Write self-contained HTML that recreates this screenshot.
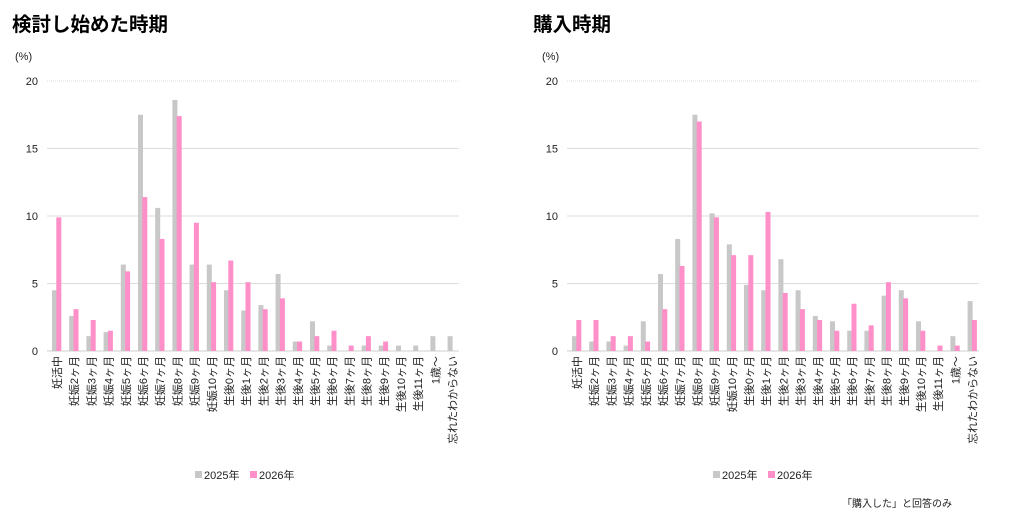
<!DOCTYPE html>
<html><head><meta charset="utf-8">
<style>
body{margin:0;background:#fff;width:1024px;height:522px;overflow:hidden;font-family:"Liberation Sans","Noto Sans CJK JP",sans-serif;}
svg{position:absolute;left:0;top:0}
</style></head><body>
<svg id="s" width="1024" height="522" xmlns="http://www.w3.org/2000/svg" font-family="Liberation Sans, Noto Sans CJK JP, sans-serif">
<text x="12" y="31" font-size="19.5" font-weight="bold" fill="#000">検討し始めた時期</text>
<text x="533" y="31" font-size="19.5" font-weight="bold" fill="#000">購入時期</text>
<text x="15" y="60" font-size="11" fill="#222">(%)</text>
<text x="542" y="60" font-size="11" fill="#222">(%)</text>
<rect x="195" y="471" width="7" height="7" fill="#c8c8c8"/>
<text x="204" y="479" font-size="11" fill="#222">2025年</text>
<rect x="250" y="471" width="7" height="7" fill="#ff8fc8"/>
<text x="259" y="479" font-size="11" fill="#222">2026年</text>
<rect x="713" y="471" width="7" height="7" fill="#c8c8c8"/>
<text x="722" y="479" font-size="11" fill="#222">2025年</text>
<rect x="768" y="471" width="7" height="7" fill="#ff8fc8"/>
<text x="777" y="479" font-size="11" fill="#222">2026年</text>
<text x="842" y="507" font-size="10" fill="#222">「購入した」と回答のみ</text>
</svg>
<script>
var cats=["妊活中"];
for(var i=2;i<=10;i++)cats.push("妊娠"+i+"ヶ月");
for(var i=0;i<=11;i++)cats.push("生後"+i+"ヶ月");
cats.push("1歳～");cats.push("忘れたわからない");
var L=[[4.5,9.9],[2.6,3.1],[1.1,2.3],[1.4,1.5],[6.4,5.9],[17.5,11.4],[10.6,8.3],[18.6,17.4],[6.4,9.5],[6.4,5.1],[4.5,6.7],[3.0,5.1],[3.4,3.1],[5.7,3.9],[0.7,0.7],[2.2,1.1],[0.4,1.5],[0,0.4],[0.4,1.1],[0.4,0.7],[0.4,0],[0.4,0],[1.1,0],[1.1,0]];
var R=[[1.1,2.3],[0.7,2.3],[0.7,1.1],[0.4,1.1],[2.2,0.7],[5.7,3.1],[8.3,6.3],[17.5,17.0],[10.2,9.9],[7.9,7.1],[4.9,7.1],[4.5,10.3],[6.8,4.3],[4.5,3.1],[2.6,2.3],[2.2,1.5],[1.5,3.5],[1.5,1.9],[4.1,5.1],[4.5,3.9],[2.2,1.5],[0,0.4],[1.1,0.4],[3.7,2.3]];
var s=document.getElementById('s'),h='';
function chart(ox,data){
  for(var t=0;t<=4;t++){
    var y=351-t*67.5;
    h+='<line x1="'+(ox+47)+'" x2="'+(ox+459)+'" y1="'+y+'" y2="'+y+'" stroke="'+(t==0?'#cfcfcf':'#dcdcdc')+'" stroke-width="1"'+(t==4?' stroke-dasharray="1,1" stroke="#999"':'')+'/>';
    h+='<text x="'+(ox+38)+'" y="'+(y+4)+'" font-size="11" text-anchor="end" fill="#222">'+(t*5)+'</text>';
  }
  for(var i=0;i<24;i++){
    var x=ox+52+i*17.2;
    var a=data[i][0]*13.5,b=data[i][1]*13.5;
    if(a>0)h+='<rect x="'+x+'" y="'+(351-a)+'" width="5" height="'+a+'" fill="#c8c8c8"/>';
    if(b>0)h+='<rect x="'+(x+4.3)+'" y="'+(351-b)+'" width="5" height="'+b+'" fill="#ff8fc8"/>';
    var cx=x+5;
    h+='<text transform="translate('+(cx+4)+',356) rotate(-90)" font-size="11" text-anchor="end" fill="#222">'+cats[i]+'</text>';
  }
}
chart(0,L);chart(520,R);
s.insertAdjacentHTML('beforeend',h);
</script>
</body></html>
